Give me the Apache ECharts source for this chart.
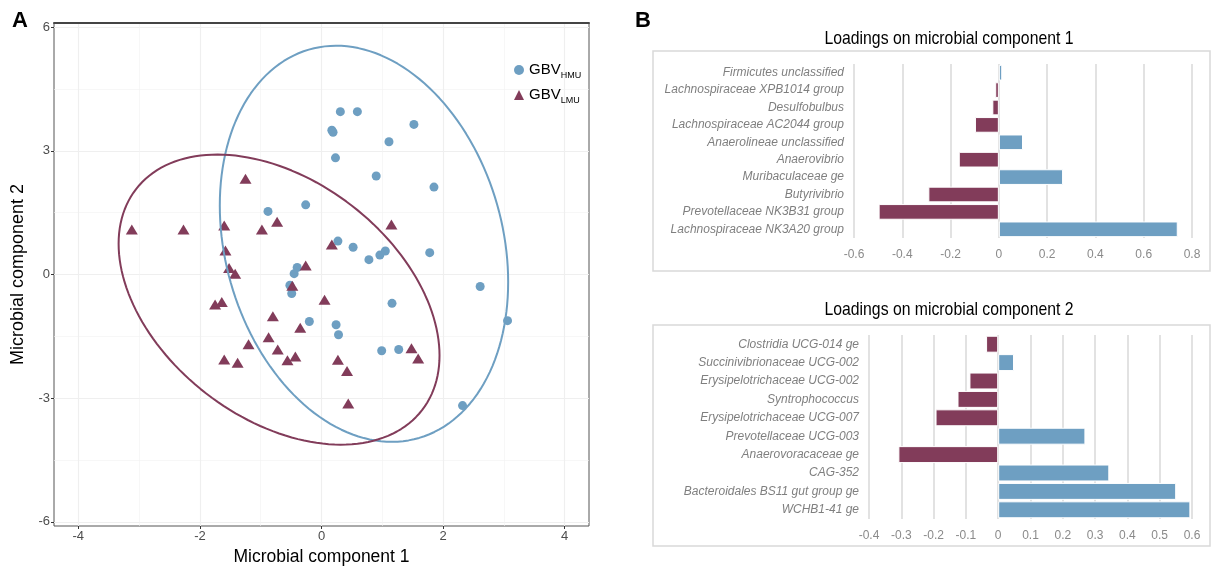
<!DOCTYPE html>
<html>
<head>
<meta charset="utf-8">
<script src="https://cdn.jsdelivr.net/npm/echarts@6/dist/echarts.min.js"></script>
<style>
  html, body { margin: 0; padding: 0; background: #fff; }
  #chart { width: 1212px; height: 572px; }
</style>
</head>
<body>
<div id="chart"></div>
<script>
// ---- Panel A: sample scores on the two microbial components ----
const hmuX = [0.31, 0.59, 0.17, 0.19, 1.52, 1.11, 0.23, 0.90, 1.85, -0.88, -0.26, 0.27, 0.52, 0.78, 0.96, 1.05, 1.78, -0.40, -0.45, -0.52, 2.61, -0.49, 1.16, 3.06, -0.20, 0.24, 0.28, 0.99, 1.27, 2.32];
const hmuY = [3.95, 3.95, 3.50, 3.45, 3.64, 3.22, 2.83, 2.39, 2.12, 1.53, 1.69, 0.81, 0.66, 0.36, 0.47, 0.57, 0.53, 0.17, 0.02, -0.26, -0.29, -0.46, -0.70, -1.12, -1.14, -1.22, -1.46, -1.85, -1.82, -3.18];
const lmuX = [-3.12, -2.27, -1.25, -1.60, -0.98, -0.73, 1.15, 0.17, -1.58, -1.52, -1.42, -0.26, -0.48, -1.75, -1.64, 0.05, -0.80, -0.35, -0.87, -1.20, -0.72, -1.60, -1.38, -0.56, -0.43, 0.27, 0.42, 1.48, 1.59, 0.44];
const lmuY = [1.09, 1.09, 2.32, 1.19, 1.09, 1.28, 1.21, 0.73, 0.58, 0.16, 0.02, 0.22, -0.27, -0.73, -0.67, -0.61, -1.01, -1.29, -1.52, -1.69, -1.82, -2.06, -2.14, -2.08, -1.99, -2.07, -2.34, -1.79, -2.04, -3.13];

const xMajor = [-4, -2, 0, 2, 4];
const xMinor = [-4, -3, -2, -1, 0, 1, 2, 3, 4];
const yMajor = [-6, -3, 0, 3, 6];
const yMinor = [-6, -4.5, -3, -1.5, 0, 1.5, 3, 4.5, 6];

// ---- Panel B: loadings ----
const cats1 = ['Firmicutes unclassified', 'Lachnospiraceae XPB1014 group', 'Desulfobulbus', 'Lachnospiraceae AC2044 group', 'Anaerolineae unclassified', 'Anaerovibrio', 'Muribaculaceae ge', 'Butyrivibrio', 'Prevotellaceae NK3B31 group', 'Lachnospiraceae NK3A20 group'];
const vals1 = [0.014, -0.015, -0.027, -0.099, 0.100, -0.166, 0.266, -0.292, -0.498, 0.741];
const cats2 = ['Clostridia UCG-014 ge', 'Succinivibrionaceae UCG-002', 'Erysipelotrichaceae UCG-002', 'Syntrophococcus', 'Erysipelotrichaceae UCG-007', 'Prevotellaceae UCG-003', 'Anaerovoracaceae ge', 'CAG-352', 'Bacteroidales BS11 gut group ge', 'WCHB1-41 ge'];
const vals2 = [-0.0375, 0.049, -0.089, -0.126, -0.194, 0.270, -0.309, 0.344, 0.551, 0.595];

const BLUE = '#6E9FC2';
const MAROON = '#823C5A';
const SANS = '"Liberation Sans", Arial, Helvetica, sans-serif';

// 95% normal-theory confidence ellipse from the sample mean and covariance
function ellipsePath(xs, ys, level = 0.95, segments = 160) {
  const n = xs.length;
  const mx = xs.reduce((a, b) => a + b, 0) / n;
  const my = ys.reduce((a, b) => a + b, 0) / n;
  let s11 = 0, s12 = 0, s22 = 0;
  for (let i = 0; i < n; i++) {
    const dx = xs[i] - mx, dy = ys[i] - my;
    s11 += dx * dx; s12 += dx * dy; s22 += dy * dy;
  }
  s11 /= n - 1; s12 /= n - 1; s22 /= n - 1;
  const r = Math.sqrt(-2 * Math.log(1 - level));   // chi-square, 2 df
  const a = Math.sqrt(s11), b = s12 / a, c = Math.sqrt(s22 - b * b);
  const out = [];
  for (let k = 0; k <= segments; k++) {
    const t = 2 * Math.PI * k / segments;
    const u = Math.cos(t), s = Math.sin(t);
    out.push([mx + r * u * a, my + r * (u * b + s * c)]);
  }
  return out;
}

const zip = (xs, ys) => xs.map((x, i) => [x, ys[i]]);
const signColor = p => (p.value >= 0 ? BLUE : MAROON);

const chart = echarts.init(document.getElementById('chart'), null, { renderer: 'canvas' });

const option = {
  animation: false,
  backgroundColor: '#fff',
  textStyle: { fontFamily: SANS },
  grid: [
    { left: 54, top: 23, width: 535, height: 503, show: true, borderColor: '#555', borderWidth: 1 },
    { left: 854, top: 64, width: 338, height: 174 },
    { left: 869, top: 335, width: 323, height: 184 }
  ],
  legend: {
    data: [{ name: 'GBV_HMU', icon: 'circle' }, { name: 'GBV_LMU', icon: 'triangle' }],
    orient: 'vertical',
    left: 514, top: 60, padding: 0,
    itemWidth: 10, itemHeight: 10, itemGap: 5,
    formatter: name => (name === 'GBV_HMU' ? '{m|GBV}{s|HMU}' : '{m|GBV}{s|LMU}'),
    textStyle: {
      rich: {
        m: { fontSize: 15, lineHeight: 20, color: '#000', fontFamily: SANS },
        s: { fontSize: 9, lineHeight: 10, padding: [11, 0, 0, 0], color: '#000', fontFamily: SANS }
      }
    }
  },
  xAxis: [
    {
      gridIndex: 0, type: 'value', min: -4.4, max: 4.4,
      name: 'Microbial component 1', nameLocation: 'middle', nameGap: 20,
      nameTextStyle: { fontSize: 17.5, color: '#000' },
      axisLine: { show: false, onZero: false },
      axisTick: { show: true, length: 3, customValues: xMajor, lineStyle: { color: '#333' } },
      axisLabel: { customValues: xMajor, color: '#4d4d4d', fontSize: 13, margin: 4 },
      splitLine: { show: true, lineStyle: { color: '#ebebeb', width: 1.1 } }
    },
    {
      gridIndex: 0, type: 'value', min: -4.4, max: 4.4, position: 'top',
      axisLine: { show: true, onZero: false, lineStyle: { color: '#444', width: 2 } },
      axisTick: { show: false, customValues: xMinor },
      axisLabel: { show: false },
      splitLine: { show: true, lineStyle: { color: '#f2f2f2', width: 0.6 } }
    },
    {
      gridIndex: 1, type: 'value', min: -0.6, max: 0.8, interval: 0.2,
      axisLine: { show: false }, axisTick: { show: false },
      axisLabel: { color: '#8a8a8a', fontSize: 12, margin: 11 },
      splitLine: { show: true, lineStyle: { color: '#d9d9d9', width: 1.5 } }
    },
    {
      gridIndex: 2, type: 'value', min: -0.4, max: 0.6, interval: 0.1,
      axisLine: { show: false }, axisTick: { show: false },
      axisLabel: { color: '#8a8a8a', fontSize: 12, margin: 11 },
      splitLine: { show: true, lineStyle: { color: '#d9d9d9', width: 1.5 } }
    }
  ],
  yAxis: [
    {
      gridIndex: 0, type: 'value', min: -6.1, max: 6.1,
      name: 'Microbial component 2', nameLocation: 'middle', nameGap: 27, nameRotate: 90,
      nameTextStyle: { fontSize: 18, color: '#000' },
      axisLine: { show: false, onZero: false },
      axisTick: { show: true, length: 3, customValues: yMajor, lineStyle: { color: '#333' } },
      axisLabel: { customValues: yMajor, color: '#4d4d4d', fontSize: 13, margin: 4 },
      splitLine: { show: true, lineStyle: { color: '#ebebeb', width: 1.1 } }
    },
    {
      gridIndex: 0, type: 'value', min: -6.1, max: 6.1, position: 'right',
      axisLine: { show: false, onZero: false },
      axisTick: { show: false, customValues: yMinor },
      axisLabel: { show: false },
      splitLine: { show: true, lineStyle: { color: '#f2f2f2', width: 0.6 } }
    },
    {
      gridIndex: 1, type: 'category', data: cats1, inverse: true,
      axisLine: { show: false }, axisTick: { show: false },
      axisLabel: { fontStyle: 'italic', color: '#7f7f7f', fontSize: 12, margin: 10 }
    },
    {
      gridIndex: 2, type: 'category', data: cats2, inverse: true,
      axisLine: { show: false }, axisTick: { show: false },
      axisLabel: { fontStyle: 'italic', color: '#7f7f7f', fontSize: 12, margin: 10 }
    }
  ],
  graphic: [
    { type: 'text', x: 12, y: 10, style: { text: 'A', font: 'bold 22px ' + SANS, fill: '#000' } },
    { type: 'text', x: 635, y: 10, style: { text: 'B', font: 'bold 22px ' + SANS, fill: '#000' } },
    { type: 'rect', silent: true, z: -1, shape: { x: 653, y: 51, width: 557, height: 220 },
      style: { fill: 'none', stroke: '#d9d9d9', lineWidth: 1.5 } },
    { type: 'rect', silent: true, z: -1, shape: { x: 653, y: 325, width: 557, height: 221 },
      style: { fill: 'none', stroke: '#d9d9d9', lineWidth: 1.5 } },
    { type: 'text', x: 949, y: 29, scaleX: 0.83, style: { text: 'Loadings on microbial component 1', font: '19px ' + SANS, fill: '#000', align: 'center' } },
    { type: 'text', x: 949, y: 300, scaleX: 0.83, style: { text: 'Loadings on microbial component 2', font: '19px ' + SANS, fill: '#000', align: 'center' } }
  ],
  series: [
    {
      name: 'GBV_HMU', type: 'scatter', xAxisIndex: 0, yAxisIndex: 0,
      data: zip(hmuX, hmuY), symbol: 'circle', symbolSize: 9,
      itemStyle: { color: BLUE, opacity: 1 }, z: 3
    },
    {
      name: 'GBV_LMU', type: 'scatter', xAxisIndex: 0, yAxisIndex: 0,
      data: zip(lmuX, lmuY), symbol: 'triangle', symbolSize: [12, 10],
      itemStyle: { color: MAROON, opacity: 1 }, z: 3
    },
    {
      name: 'HMU ellipse', type: 'line', xAxisIndex: 0, yAxisIndex: 0,
      data: ellipsePath(hmuX, hmuY), showSymbol: false, silent: true,
      lineStyle: { color: BLUE, width: 2 }, itemStyle: { color: BLUE }, z: 4
    },
    {
      name: 'LMU ellipse', type: 'line', xAxisIndex: 0, yAxisIndex: 0,
      data: ellipsePath(lmuX, lmuY), showSymbol: false, silent: true,
      lineStyle: { color: MAROON, width: 2 }, itemStyle: { color: MAROON }, z: 4
    },
    {
      name: 'Component 1 loadings', type: 'bar', xAxisIndex: 2, yAxisIndex: 2,
      data: vals1, barCategoryGap: '10%',
      itemStyle: { color: signColor, borderColor: '#fff', borderWidth: 1 }
    },
    {
      name: 'Component 2 loadings', type: 'bar', xAxisIndex: 3, yAxisIndex: 3,
      data: vals2, barCategoryGap: '8%',
      itemStyle: { color: signColor, borderColor: '#fff', borderWidth: 1 }
    }
  ]
};

chart.setOption(option);
</script>
</body>
</html>
